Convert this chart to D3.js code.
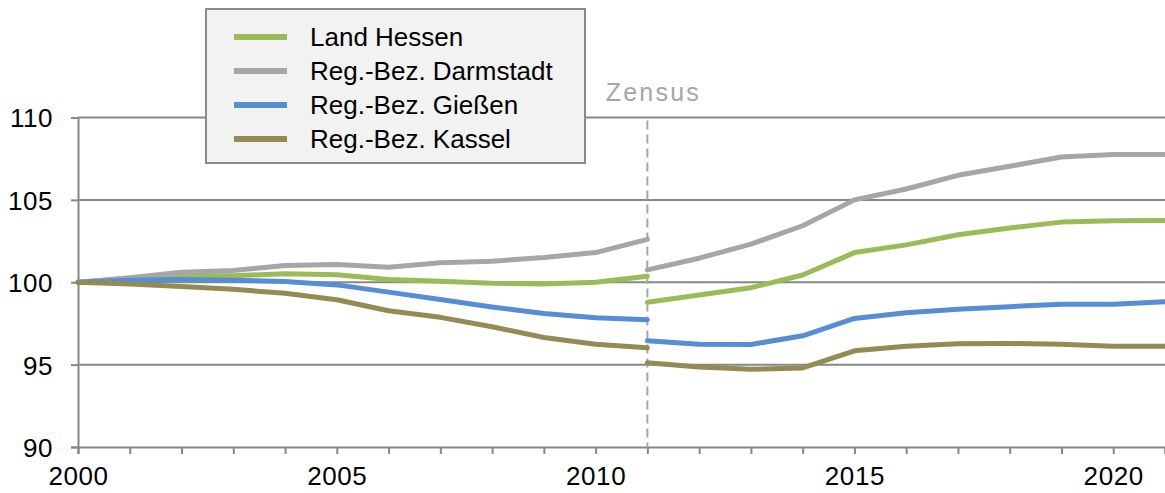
<!DOCTYPE html>
<html lang="de">
<head>
<meta charset="UTF-8">
<title>Bevölkerungsentwicklung Hessen</title>
<script src="https://d3js.org/d3.v7.min.js"></script>
<style>
  html, body { margin: 0; padding: 0; background: #fff; }
  #vis { width: 1165px; height: 493px; }
  text { font-family: "Liberation Sans", Arial, sans-serif; }
</style>
</head>
<body>
<div id="vis"></div>
<script>
// Index 2000 = 100, Zensus-Bruch 2011
var yearsA = [2000, 2001, 2002, 2003, 2004, 2005, 2006, 2007, 2008, 2009, 2010, 2011];
var yearsB = [2011, 2012, 2013, 2014, 2015, 2016, 2017, 2018, 2019, 2020, 2021];

var hessenA    = [100, 100.2, 100.41, 100.4, 100.51, 100.45, 100.16, 100.06, 99.94, 99.9, 100.0, 100.37];
var hessenB    = [98.78, 99.23, 99.67, 100.44, 101.8, 102.27, 102.88, 103.29, 103.65, 103.73, 103.75];
var darmstadtA = [100, 100.27, 100.61, 100.71, 101.02, 101.08, 100.91, 101.18, 101.28, 101.5, 101.8, 102.6];
var darmstadtB = [100.75, 101.46, 102.31, 103.43, 105.0, 105.66, 106.49, 107.04, 107.6, 107.75, 107.75];
var giessenA   = [100, 100.12, 100.16, 100.12, 100.04, 99.84, 99.4, 98.95, 98.5, 98.1, 97.85, 97.73];
var giessenB   = [96.45, 96.24, 96.22, 96.75, 97.8, 98.15, 98.36, 98.52, 98.66, 98.66, 98.82];
var kasselA    = [100, 99.9, 99.74, 99.57, 99.33, 98.94, 98.27, 97.87, 97.3, 96.65, 96.24, 96.02];
var kasselB    = [95.11, 94.86, 94.72, 94.8, 95.84, 96.12, 96.26, 96.28, 96.24, 96.12, 96.12];

var seriesNames = ['Land Hessen', 'Reg.-Bez. Darmstadt', 'Reg.-Bez. Gießen', 'Reg.-Bez. Kassel'];
var seriesColors = ['#9bbb59', '#a6a6a6', '#558ed5', '#948a54'];
var yTicks = [90, 95, 100, 105, 110];
var xLabelYears = [2000, 2005, 2010, 2015, 2020];
var zensusYear = 2011;

var series = [
  { name: seriesNames[0], color: seriesColors[0], a: hessenA, b: hessenB },
  { name: seriesNames[1], color: seriesColors[1], a: darmstadtA, b: darmstadtB },
  { name: seriesNames[2], color: seriesColors[2], a: giessenA, b: giessenB },
  { name: seriesNames[3], color: seriesColors[3], a: kasselA, b: kasselB }
];

var W = 1165, H = 493;
var margin = { top: 117.5, right: 0, bottom: 46, left: 78 };
var width = W - margin.left - margin.right;
var height = H - margin.top - margin.bottom;

var svg = d3.select('#vis').append('svg')
  .attr('width', W)
  .attr('height', H);

var g = svg.append('g')
  .attr('transform', 'translate(' + margin.left + ',' + margin.top + ')');

var x = d3.scaleLinear().domain([2000, 2021]).range([0, width]);
var y = d3.scaleLinear().domain([90, 110]).range([height, 0]);

var axisColor = '#878787';

// gridlines
g.selectAll('.grid')
  .data(yTicks.filter(function(d) { return d > 90; }))
  .enter().append('line')
  .attr('class', 'grid')
  .attr('x1', 0).attr('x2', width)
  .attr('y1', function(d) { return y(d); })
  .attr('y2', function(d) { return y(d); })
  .attr('stroke', axisColor)
  .attr('stroke-width', 2);

// y axis
var yAxis = g.append('g')
  .call(d3.axisLeft(y).tickValues(yTicks).tickSize(7).tickPadding(18));
yAxis.select('.domain').attr('stroke', axisColor).attr('stroke-width', 2);
yAxis.selectAll('.tick line').attr('stroke', axisColor).attr('stroke-width', 2);
yAxis.selectAll('text')
  .attr('font-size', 26)
  .attr('letter-spacing', 0.5)
  .attr('fill', '#000')
  .attr('dy', '0.36em');

// x axis
var xAxis = g.append('g')
  .attr('transform', 'translate(0,' + height + ')')
  .call(d3.axisBottom(x).tickValues(d3.range(2000, 2022)).tickSize(7).tickPadding(13)
    .tickFormat(function(d) { return xLabelYears.indexOf(d) >= 0 ? d : ''; }));
xAxis.select('.domain').attr('stroke', axisColor).attr('stroke-width', 2);
xAxis.selectAll('.tick line').attr('stroke', axisColor).attr('stroke-width', 2);
xAxis.selectAll('text')
  .attr('font-size', 26)
  .attr('letter-spacing', 0.6)
  .attr('fill', '#000');

// Zensus marker
g.append('line')
  .attr('x1', x(zensusYear)).attr('x2', x(zensusYear))
  .attr('y1', 3).attr('y2', height)
  .attr('stroke', '#a6a6a6')
  .attr('stroke-width', 2)
  .attr('stroke-dasharray', '9,5');

g.append('text')
  .attr('x', x(zensusYear) + 6)
  .attr('y', -16.5)
  .attr('text-anchor', 'middle')
  .attr('font-size', 25)
  .attr('letter-spacing', 2.2)
  .attr('fill', '#a6a6a6')
  .text('Zensus');

// lines
var line = d3.line()
  .x(function(d) { return x(d[0]); })
  .y(function(d) { return y(d[1]); });

series.forEach(function(s) {
  var partA = yearsA.map(function(yr, i) { return [yr, s.a[i]]; });
  var partB = yearsB.map(function(yr, i) { return [yr, s.b[i]]; });
  [partA, partB].forEach(function(p) {
    g.append('path')
      .datum(p)
      .attr('d', line)
      .attr('fill', 'none')
      .attr('stroke', s.color)
      .attr('stroke-width', 5)
      .attr('stroke-linejoin', 'round')
      .attr('stroke-linecap', 'round');
  });
});

// legend
var legend = svg.append('g').attr('transform', 'translate(206,9)');
legend.append('rect')
  .attr('width', 379)
  .attr('height', 154)
  .attr('fill', '#f2f2f2')
  .attr('stroke', '#8a8a8a')
  .attr('stroke-width', 2);

var items = legend.selectAll('.item')
  .data(series)
  .enter().append('g')
  .attr('class', 'item')
  .attr('transform', function(d, i) { return 'translate(0,' + (28 + i * 34) + ')'; });

items.append('line')
  .attr('x1', 28).attr('x2', 81)
  .attr('stroke', function(d) { return d.color; })
  .attr('stroke-width', 6);

items.append('text')
  .attr('x', 104)
  .attr('y', 0)
  .attr('dy', '0.35em')
  .attr('font-size', 26)
  .attr('fill', '#000')
  .text(function(d) { return d.name; });
</script>
</body>
</html>
